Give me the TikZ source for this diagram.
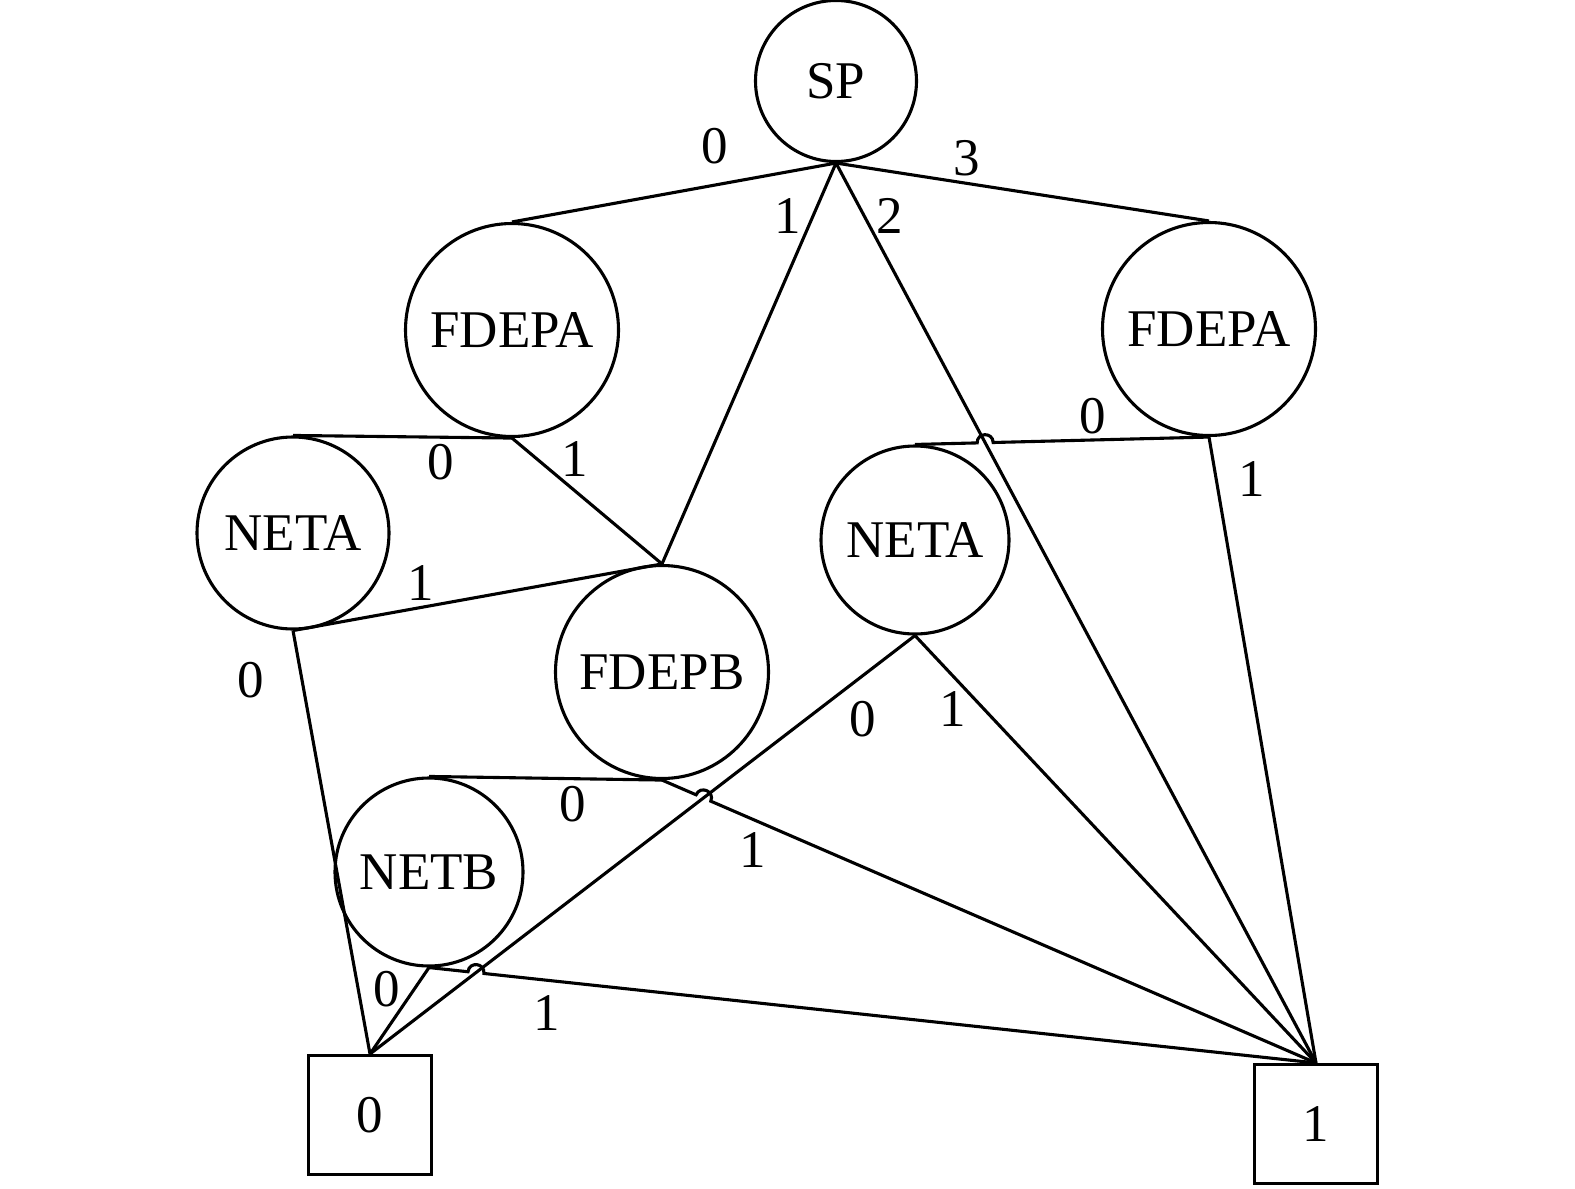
\documentclass[tikz,border=0pt]{standalone}
\usepackage{fontspec}
\setmainfont{Liberation Serif}
\usetikzlibrary{calc,intersections}
\begin{document}
\begin{tikzpicture}[x=1pt,y=-1pt,line width=3.1pt,
  every node/.style={font=\fontsize{53}{60}\selectfont},
  circ/.style={draw,circle,inner sep=0pt},
  term/.style={draw,rectangle,inner sep=0pt,minimum width=123pt,minimum height=119pt},
  lab/.style={inner sep=0pt}]
\useasboundingbox (0,0) rectangle (1575,1189);
% nodes
\node[circ,minimum size=161pt] (sp) at (836,81) {SP};
\node[circ,minimum size=213pt] (fa1) at (512,330) {FDEPA};
\node[circ,minimum size=213pt] (fa2) at (1209,329) {FDEPA};
\node[circ,minimum size=192pt] (na1) at (293,533) {NETA};
\node[circ,minimum size=213pt] (fb) at (662,672) {FDEPB};
\node[circ,minimum size=188pt] (na2) at (915,540) {NETA};
\node[circ,minimum size=188pt] (nb) at (429,872) {NETB};
\node[term] (t0) at (370,1115) {0};
\node[term] (t1) at (1316,1124) {1};
% plain edges
\draw (sp.south) -- (fa1.north);
\draw (sp.south) -- (fa2.north);
\draw (sp.south) -- (fb.north);
\draw[name path=p1] (sp.south) -- (t1.north);
\draw (fa1.south) -- (na1.north);
\draw (fa1.south) -- (fb.north);
\draw (fa2.south) -- (t1.north);
\draw (na1.south) -- (fb.north);
\draw (na1.south) -- (t0.north);
\draw (fb.south) -- (nb.north);
\draw[name path=p2] (na2.south) -- (t0.north);
\draw (na2.south) -- (t1.north);
\draw (nb.south) -- (t0.north);
% crossings
\path[name path=q1] (na2.north) -- (fa2.south);
\path[name path=q2] (fb.south) -- (t1.north);
\path[name path=q3] (nb.south) -- (t1.north);
\path[name intersections={of=p1 and q1,by=X1}];
\path[name intersections={of=p2 and q2,by=X2}];
\path[name intersections={of=p2 and q3,by=X3}];
\coordinate (h1a) at ($(X1)!8pt!(na2.north)$);
\coordinate (h1b) at ($(X1)!8pt!(fa2.south)$);
\coordinate (h2a) at ($(X2)!8pt!(fb.south)$);
\coordinate (h2b) at ($(X2)!8pt!(t1.north)$);
\coordinate (h3a) at ($(X3)!8pt!(nb.south)$);
\coordinate (h3b) at ($(X3)!8pt!(t1.north)$);
\draw (na2.north) -- (h1a) .. controls ($(h1a)!10.7pt!90:(X1)$) and ($(h1b)!10.7pt!-90:(X1)$) .. (h1b) -- (fa2.south);
\draw (fb.south) -- (h2a) .. controls ($(h2a)!10.7pt!90:(X2)$) and ($(h2b)!10.7pt!-90:(X2)$) .. (h2b) -- (t1.north);
\draw (nb.south) -- (h3a) .. controls ($(h3a)!10.7pt!90:(X3)$) and ($(h3b)!10.7pt!-90:(X3)$) .. (h3b) -- (t1.north);
% labels
\node[lab] (l1) at (715,146) {0};
\node[lab] (l2) at (967,158) {3};
\node[lab] (l3) at (788,216) {1};
\node[lab] (l4) at (890,216) {2};
\node[lab] (l5) at (441,462) {0};
\node[lab] (l6) at (575,459) {1};
\node[lab] (l7) at (1093,416) {0};
\node[lab] (l8) at (1252,479) {1};
\node[lab] (l9) at (421,583) {1};
\node[lab] (l10) at (251,680) {0};
\node[lab] (l11) at (573,804) {0};
\node[lab] (l12) at (753,850) {1};
\node[lab] (l13) at (863,719) {0};
\node[lab] (l14) at (953,709) {1};
\node[lab] (l15) at (387,989) {0};
\node[lab] (l16) at (547,1013) {1};
\end{tikzpicture}
\end{document}
